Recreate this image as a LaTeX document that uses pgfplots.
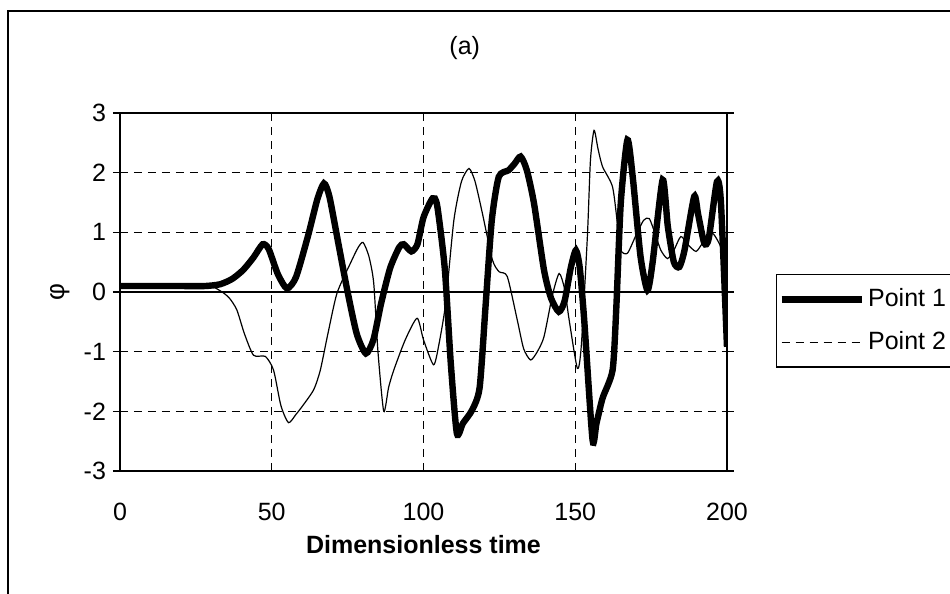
\documentclass[border=0pt]{standalone}
\usepackage{fontspec}
\setmainfont{Liberation Sans}
\usepackage{pgfplots}
\pgfplotsset{compat=1.18}

\begin{document}
\begin{tikzpicture}
\useasboundingbox (-60pt,-61.5pt) rectangle (415pt,235.5pt);
% outer chart frame (right and bottom edges fall outside the page)
\draw[line width=0.9pt] (-56pt,-80pt) -- (-56pt,230pt) -- (440pt,230pt);
\begin{axis}[
  at={(0,0)}, anchor=south west,
  width=303.5pt, height=179pt, scale only axis,
  xmin=0, xmax=200, ymin=-3, ymax=3,
  xtick={0,50,100,150,200}, ytick={-3,-2,-1,0,1,2,3},
  /pgf/number format/assume math mode=true,
  tick label style={font=\fontsize{12.5}{14}\selectfont},
  xticklabel style={yshift=-9pt},
  x tick style={draw=none},
  tick align=outside, major tick length=3.5pt,
  y tick style={black, line width=0.6pt},
  xmajorgrids, ymajorgrids,
  grid style={black, dashed, line width=0.5pt, dash pattern=on 4pt off 3pt},
  axis line style={line width=1.1pt},
  xlabel={\textbf{Dimensionless time}},
  xlabel style={font=\fontsize{12.5}{14}\selectfont, at={(axis description cs:0.5,-0.206)}, anchor=center},
  ylabel={φ},
  ylabel style={font=\fontsize{13}{14}\selectfont, at={(axis description cs:-0.099,0.5)}, anchor=center},
  title={(a)},
  title style={font=\fontsize{12.5}{14}\selectfont, at={(axis description cs:0.568,1.148)}, anchor=center, yshift=0pt},
  legend style={at={(axis description cs:1.080,0.550)}, anchor=north west,
    draw=black, line width=0.6pt, font=\fontsize{12.5}{14}\selectfont,
    row sep=7pt, inner xsep=1pt, inner ysep=5pt,
    nodes={inner xsep=1.5pt}},
  legend cell align=left,
  legend image code/.code={\draw[#1] (0pt,0pt) -- (40pt,0pt);},
]
\draw[black, line width=0.6pt] (axis cs:0,0) -- (axis cs:200,0);

% Point 2 (thin)
\addplot[black, line width=0.6pt, smooth, tension=0.4, forget plot] coordinates {
(0,0.1)(28,0.1)(33,0.02)(36,-0.1)(38.5,-0.3)(41,-0.7)(44,-1.06)(47.9,-1.08)
(50.6,-1.31)(53,-1.9)(55.5,-2.19)(58,-2.05)(60,-1.92)(63.8,-1.64)(66,-1.31)
(68.5,-0.7)(71.5,-0.02)(75.9,0.48)(78.5,0.75)(80.1,0.83)(82,0.6)(83.6,0.15)
(85,-1.0)(86.9,-2.0)(88.5,-1.6)(90.2,-1.31)(94,-0.8)(97.9,-0.44)(100,-0.8)
(103.3,-1.22)(105,-0.9)(107.3,-0.19)(110,1.2)(112.5,1.85)(115,2.07)(117,1.85)
(119.4,1.32)(122.7,0.54)(124.9,0.34)(127.6,0.26)(130.9,-0.47)(133,-0.95)
(135.3,-1.14)(137.5,-1.0)(139.7,-0.75)(142.5,-0.05)(144.7,0.31)(146.5,0.05)
(148,-0.47)(150.7,-1.28)(152,-0.9)(154,0.93)(155,2.2)(156.2,2.71)(157.5,2.4)
(159,2.1)(162.3,1.76)(164,1.1)(165,0.70)(167.2,0.65)(170,0.95)(172.5,1.2)
(174.4,1.23)(176.5,0.95)(178.2,0.70)(180.4,0.56)(182.5,0.7)(184.8,0.93)
(187,0.8)(189.8,0.68)(192,0.82)(195.3,0.98)(198.6,0.7)(200,0.55)
};

% Point 1 (thick)
\addplot[black, line width=3.2pt, smooth, tension=0.4, forget plot] coordinates {
(0,0.1)(10,0.1)(20,0.1)(28,0.1)(33,0.13)(37,0.22)(40.6,0.37)(44,0.58)(47,0.8)
(49,0.72)(52,0.3)(55,0.06)(58,0.25)(62,0.95)(65,1.55)(67.2,1.82)(69,1.6)
(72,0.8)(75,0.0)(78,-0.7)(81,-1.03)(83.5,-0.8)(86,-0.2)(89,0.4)(92,0.75)
(93.5,0.8)(96,0.68)(98,0.8)(100,1.25)(103,1.57)(104.5,1.45)(107,0.4)(109,-1.2)
(111,-2.37)(113,-2.2)(116,-1.98)(118.5,-1.6)(120.5,-0.2)(122.5,1.2)(124.8,1.93)
(128,2.04)(130,2.15)(132,2.27)(134,2.05)(136.4,1.49)(139.7,0.37)(142,-0.1)
(144.6,-0.33)(146.5,-0.15)(148.5,0.4)(150.2,0.7)(151.5,0.4)(153,-0.5)
(155.7,-2.48)(157,-2.2)(159,-1.78)(162.3,-1.31)(163.5,-0.3)(165,1.49)
(167.2,2.55)(169,1.9)(171.5,0.6)(173.8,0.03)(175.5,0.5)(178.8,1.88)(180.5,1.1)
(182.5,0.5)(184.3,0.42)(186,0.7)(189.2,1.6)(190.5,1.3)(192.5,0.82)(194,0.9)
(196.7,1.85)(198,1.5)(200,-0.92)
};

\addlegendimage{black, line width=3.5pt}
\addlegendentry{Point 1}
\addlegendimage{black, line width=0.6pt, dash pattern=on 4pt off 3pt}
\addlegendentry{Point 2}
\end{axis}
\end{tikzpicture}
\end{document}
